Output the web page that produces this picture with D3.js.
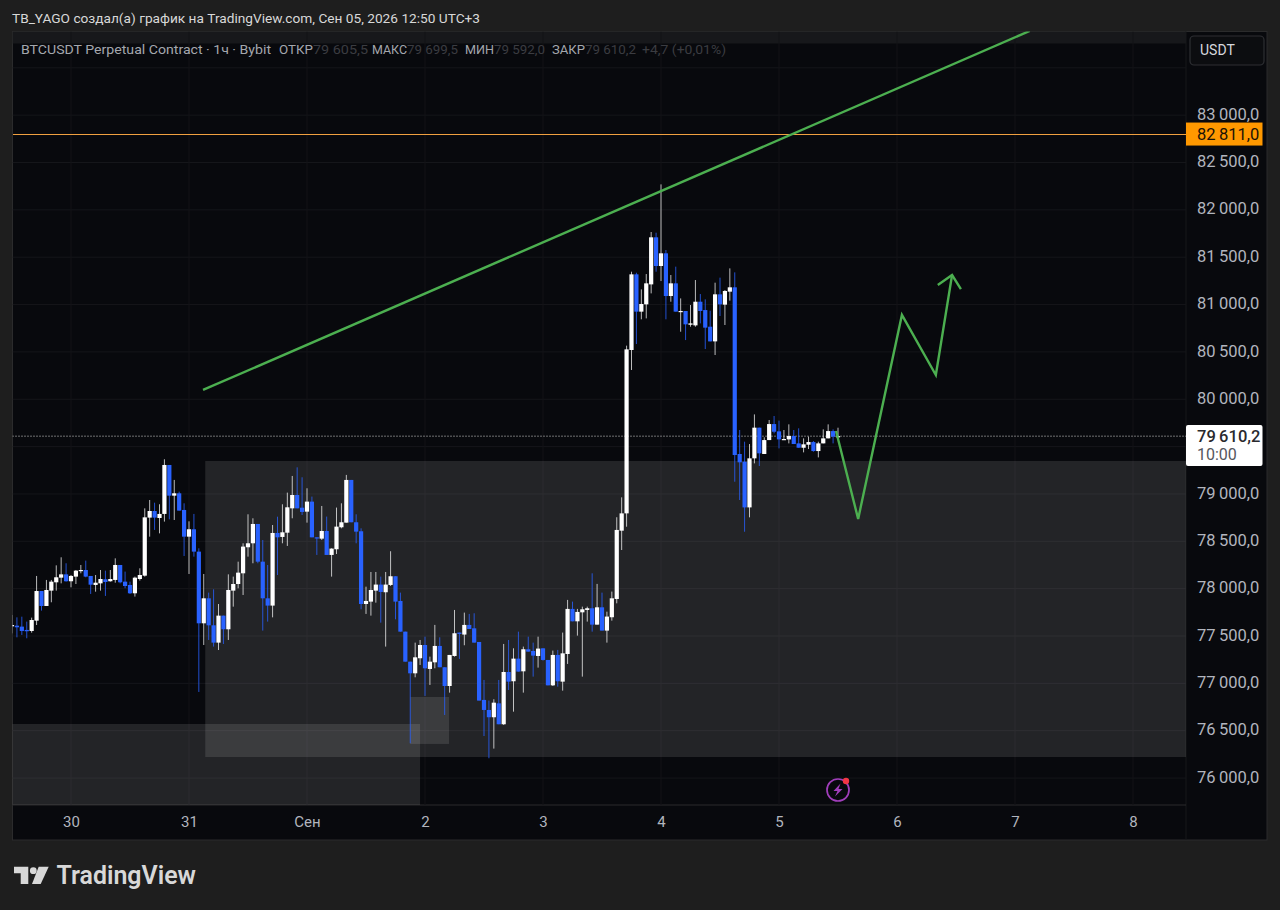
<!DOCTYPE html>
<html><head><meta charset="utf-8">
<script src="https://cdn.jsdelivr.net/npm/d3@7/dist/d3.min.js"></script>
<style>
html,body{margin:0;padding:0;background:#1e1e1e;overflow:hidden}
svg{display:block}
text{font-family:Roboto,"Noto Sans",sans-serif}
</style></head><body><div id="chart"></div>
<script>
// ---------- data ----------
const firstCandleHour = -12; // hours after 30 Aug 00:00
const open = [77602,77609,77599,77564,77553,77662,77975,77817,77979,78067,
78116,78151,78078,78127,78187,78197,78134,78039,78056,78099,
78078,78092,78250,78074,78039,77951,78102,78137,78750,78820,
78746,78789,79306,78982,79007,78831,78549,78627,78391,77634,
77898,77613,77430,77715,77571,77979,78049,78162,78437,78479,
78683,78285,77898,77821,78588,78546,78591,78848,78989,78855,
78813,78919,78542,78528,78609,78356,78416,78648,78697,79148,
78701,78606,77838,77863,77979,78043,77962,78039,78131,77870,
77546,77229,77106,77265,77405,77152,77222,77395,77170,76972,
77289,77536,77515,77617,77581,77437,76825,76719,76642,76789,
76568,77120,77022,77261,77127,77360,77342,77289,77370,77247,
76979,77300,77018,77310,77786,77655,77750,77775,77793,77620,
77803,77557,77698,77891,78612,78795,80520,81319,80925,81002,
81213,81710,81407,81541,81090,81224,80921,80932,80787,80780,
81030,80942,80766,80611,81108,80999,81136,81182,79422,79341,
78858,79376,79700,79422,79569,79738,79661,79573,79576,79612,
79534,79488,79520,79548,79453,79534,79587,79664,79605.5];
const high = [77722,77697,77704,77652,77694,78134,77975,78092,78092,78246,
78331,78268,78144,78197,78250,78296,78134,78144,78197,78190,
78197,78320,78250,78180,78074,78127,78215,78848,78936,78908,
78891,79366,79306,79148,79024,78901,78711,78789,78426,78155,
77958,77993,77838,77715,78151,78127,78285,78479,78785,78743,
78683,78514,78250,78672,78760,78891,79014,79190,79281,79176,
79060,78972,78542,78873,78761,78426,78856,78901,79201,79148,
78785,78637,78021,78176,78176,78127,78176,78395,78131,77958,
77546,77229,77430,77458,77493,77282,77617,77486,77170,77300,
77775,77536,77747,77733,77740,77437,77036,76818,76832,77036,
77416,77458,77370,77546,77388,77493,77430,77493,77370,77247,
77346,77353,77536,77881,77863,77786,77810,77810,78162,78050,
77958,77757,77969,78754,78964,80566,81347,81336,81160,81322,
81766,81759,82269,81576,81312,81400,81065,80932,80995,81259,
81111,81055,80935,81231,81284,81153,81382,81340,79675,79552,
79527,79840,79700,79598,79781,79823,79774,79675,79735,79675,
79693,79587,79605,79559,79552,79682,79735,79682,79699.5];
const low = [77528,77486,77511,77476,77535,77616,77768,77817,77856,77979,
78056,78074,78014,78049,78162,78120,77944,77968,77979,77923,
78074,78063,78056,78004,77944,77916,78085,78127,78549,78620,
78584,78708,78732,78725,78824,78345,78155,78338,76909,77405,
77458,77388,77352,77416,77458,77810,78004,77933,78338,78268,
78268,77557,77652,77697,78144,78479,78451,78743,78848,78778,
78697,78542,78356,78514,78356,78127,78366,78637,78697,78701,
78479,77782,77733,77715,77852,77641,77388,78028,77676,77546,
77229,76367,77064,77194,76867,76983,77159,77170,76666,76902,
77282,77258,77402,77574,77430,76818,76444,76209,76311,76568,
76561,76930,76701,77124,76902,77335,77071,77166,77240,76979,
76972,76965,76923,77205,77655,77504,77071,77652,77546,77620,
77557,77430,77662,77845,78408,78654,80309,80583,80844,80854,
81118,81347,81248,80844,81030,80925,80713,80625,80766,80766,
80801,80530,80611,80467,80879,80784,81041,79129,78936,78601,
78753,79323,79295,79422,79569,79640,79481,79569,79534,79527,
79488,79439,79474,79446,79386,79534,79587,79534,79592];
const close = [77616,77592,77553,77550,77669,77975,77817,77986,78074,78120,
78151,78078,78134,78190,78197,78127,78042,78063,78102,78070,
78102,78250,78067,78028,77951,78116,78144,78753,78820,78750,
78789,79306,78982,79007,78824,78549,78627,78391,77634,77898,
77613,77430,77715,77571,77986,78049,78169,78444,78479,78683,
78285,77898,77821,78588,78542,78595,78859,78989,78848,78810,
78919,78542,78532,78609,78356,78423,78655,78701,79148,78701,
78602,77838,77870,77986,78043,77965,78043,78131,77863,77546,
77229,77106,77275,77405,77159,77229,77395,77170,76972,77300,
77529,77522,77617,77574,77430,76818,76719,76642,76796,76568,
77120,77018,77261,77124,77360,77335,77293,77367,77247,76979,
77300,77022,77317,77786,77655,77754,77782,77793,77620,77803,
77557,77705,77898,78620,78795,80527,81319,80925,81006,81224,
81710,81407,81541,81090,81224,80925,80932,80791,80801,81030,
80932,80756,80611,81108,81002,81143,81182,79411,79334,78858,
79376,79700,79429,79569,79738,79657,79576,79580,79612,79527,
79488,79524,79548,79453,79534,79587,79664,79605,79610.2];

const dayTickHours = [0,24,48,72,96,120,144,168,192,216];
const dayTickLabels = ["30","31","Сен","2","3","4","5","6","7","8"];
const priceGrid = [76000,76500,77000,77500,78000,78500,79000,79500,80000,80500,81000,81500,82000,82500,83000,83500];
const priceTicks = [76000,76500,77000,77500,78000,78500,79000,80000,80500,81000,81500,82000,82500,83000];

const zoneFromHour = [27.3,-30,69];
const zoneToHour   = [260,71,76.9];
const zoneTopPrice = [79348,76571,76856];
const zoneBotPrice = [76222,75700,76360];

const trendHours = [26.85,195];
const trendPrices = [80098,83889];
const pathHours = [155.6,160.1,169,175.9,179.2];
const pathPrices = [79665,78736,80890,80256,81312];
const arrowHours = [176.3,179.2,181];
const arrowPrices = [81207,81312,81164];

const levelPrice = 82811;
const lastPrice = 79610.2;

// ---------- layout ----------
const W=1280,H=910;
const base=Date.UTC(2026,7,30);
const toDate=h=>new Date(base+h*3600e3);
const x=d3.scaleUtc().domain([toDate(0),toDate(216)]).range([71,1133]);
const y=d3.scaleLinear().domain([77500,83000]).range([636,115.15]);
const L=12.5,R=1186,T=31.5,B=805,AR=1267,AB=840;

const svg=d3.select("#chart").append("svg").attr("width",W).attr("height",H);
svg.append("rect").attr("width",W).attr("height",H).attr("fill","#1e1e1e");
svg.append("rect").attr("x",L).attr("y",T).attr("width",AR-L).attr("height",AB-T).attr("fill","#08090d").attr("stroke","#2b2b2c");
svg.append("line").attr("x1",R).attr("x2",R).attr("y1",T).attr("y2",AB).attr("stroke","#17181b");
svg.append("line").attr("x1",L).attr("x2",R).attr("y1",B).attr("y2",B).attr("stroke","#2a2a2d");

svg.append("defs").append("clipPath").attr("id","plot").append("rect").attr("x",L).attr("y",T).attr("width",R-L).attr("height",B-T);
const plot=svg.append("g").attr("clip-path","url(#plot)");

// legend strip
plot.append("rect").attr("x",L).attr("y",T).attr("width",R-L).attr("height",12).attr("fill","#17181b");

// grid
plot.append("g").selectAll("line").data(priceGrid).join("line")
 .attr("x1",L).attr("x2",R).attr("y1",d=>y(d)).attr("y2",d=>y(d)).attr("stroke","#15161a");
plot.append("g").selectAll("line").data(dayTickHours).join("line")
 .attr("x1",d=>x(toDate(d))).attr("x2",d=>x(toDate(d))).attr("y1",T).attr("y2",B).attr("stroke","#121317");

// zones
plot.append("g").selectAll("rect").data(zoneFromHour).join("rect")
 .attr("x",(d,i)=>x(toDate(d))).attr("width",(d,i)=>x(toDate(zoneToHour[i]))-x(toDate(d)))
 .attr("y",(d,i)=>y(zoneTopPrice[i])).attr("height",(d,i)=>y(zoneBotPrice[i])-y(zoneTopPrice[i]))
 .attr("fill","#fff").attr("fill-opacity",.11);

// level & last price lines
plot.append("line").attr("x1",L).attr("x2",R).attr("y1",y(levelPrice)+1).attr("y2",y(levelPrice)+1).attr("stroke","#f0a040").attr("stroke-width",1).attr("shape-rendering","crispEdges");
plot.append("line").attr("x1",L).attr("x2",R).attr("y1",y(lastPrice)).attr("y2",y(lastPrice)).attr("stroke","#d8d8d8").attr("stroke-dasharray","1 2");

// candles
const idx=d3.range(open.length);
const cx=i=>x(toDate(firstCandleHour+i));
const up=i=>close[i]>=open[i];
const WHITE="#ffffff",BLUE="#2962ff";
const c=plot.append("g");
c.selectAll("line").data(idx).join("line")
 .attr("x1",cx).attr("x2",cx).attr("y1",i=>y(high[i])).attr("y2",i=>y(low[i]))
 .attr("stroke",i=>up(i)?WHITE:BLUE).attr("stroke-opacity",i=>up(i)?.72:.8).attr("stroke-width",1);
c.selectAll("rect").data(idx).join("rect")
 .attr("x",i=>cx(i)-2.1).attr("width",4.2)
 .attr("y",i=>y(Math.max(open[i],close[i])))
 .attr("height",i=>Math.max(1.2,Math.abs(y(open[i])-y(close[i]))))
 .attr("fill",i=>up(i)?WHITE:BLUE);

// drawings
const ln=d3.line().x(d=>x(toDate(d[0]))).y(d=>y(d[1]));
const green="#4caf50";
[[trendHours,trendPrices],[pathHours,pathPrices],[arrowHours,arrowPrices]].forEach(([h,p])=>{
 plot.append("path").attr("d",ln(h.map((v,i)=>[v,p[i]]))).attr("fill","none").attr("stroke",green).attr("stroke-width",2.4);
});

// purple icon
const ic=plot.append("g").attr("transform","translate(838,790)");
ic.append("circle").attr("r",11).attr("fill","none").attr("stroke","#a13ebb").attr("stroke-width",1.7);
ic.append("path").attr("d","M2.5,-6.5 L-4.5,1 L-0.5,1 L-3,6.5 L4.5,-1 L0.5,-1 Z").attr("fill","#a13ebb");
ic.append("circle").attr("cx",8).attr("cy",-9).attr("r",3.2).attr("fill","#f23645");

// axes
const xAxis=d3.axisBottom(x).tickValues(dayTickHours.map(toDate)).tickFormat((d,i)=>dayTickLabels[i]).tickSize(0).tickPadding(11);
const gx=svg.append("g").attr("transform",`translate(0,${B})`).call(xAxis);
gx.select(".domain").remove();
gx.selectAll("text").attr("fill","#b2b5be").attr("font-size",15).attr("font-family","Roboto,sans-serif");

const fmtPrice=v=>{const s=v.toFixed(1).replace(".",",");const a=s.length-5;return s.slice(0,a)+"\u2009"+s.slice(a);};
const yAxis=d3.axisRight(y).tickValues(priceTicks).tickFormat(fmtPrice).tickSize(0).tickPadding(11);
const gy=svg.append("g").attr("transform",`translate(${R},0)`).call(yAxis);
gy.select(".domain").remove();
gy.selectAll("text").attr("fill","#b2b5be").attr("font-size",16.5).attr("dy","0.25em").attr("font-family","Roboto,sans-serif");

// price labels
svg.append("rect").attr("x",R).attr("y",y(levelPrice)-10.5).attr("width",76.5).attr("height",23).attr("fill","#ff9800");
svg.append("text").attr("x",1197).attr("y",y(levelPrice)+7).attr("font-size",16.5).attr("fill","#1a1206").text(fmtPrice(levelPrice));
svg.append("rect").attr("x",R).attr("y",425).attr("width",76.5).attr("height",41).attr("rx",2).attr("fill","#fff");
svg.append("text").attr("x",1197).attr("y",442).attr("font-size",16.5).attr("font-weight",500).attr("fill","#2a2a2e").text(fmtPrice(lastPrice));
svg.append("text").attr("x",1197).attr("y",460).attr("font-size",16).attr("fill","#55565c").text("10:00");

// USDT button
svg.append("rect").attr("x",1190).attr("y",36).attr("width",74).attr("height",29).attr("rx",4).attr("fill","#0c0d10").attr("stroke","#2e2f33").attr("stroke-width",1.2);
svg.append("text").attr("x",1200).attr("y",55).attr("font-size",14).attr("fill","#d6d8de").text("USDT");

// header & legend
svg.append("text").attr("x",12).attr("y",23).attr("font-size",13).attr("fill","#d8d8d8").attr("textLength",468).attr("lengthAdjust","spacingAndGlyphs")
 .text("TB_YAGO создал(а) график на TradingView.com, Сен 05, 2026 12:50 UTC+3");
const legendTexts=["BTCUSDT Perpetual Contract · 1ч · Bybit","ОТКР","79 605,5","МАКС","79 699,5","МИН","79 592,0","ЗАКР","79 610,2","+4,7 (+0,01%)"];
const legendX=[21,279,313,372,407,465,494,552,585,642];
const legendLen=[250,34,55,35,51,29,51,33,51,84];
svg.append("g").selectAll("text").data(legendTexts).join("text")
 .attr("x",(d,i)=>legendX[i]).attr("y",54).attr("font-size",13)
 .attr("textLength",(d,i)=>legendLen[i]).attr("lengthAdjust","spacingAndGlyphs")
 .attr("fill",(d,i)=>(i===0||(i%2===1&&i<9))?"#a4a7ad":"#3b3c41")
 .text(d=>d);

// logo
const lg=svg.append("g").attr("fill","#d8d8d8");
lg.append("path").attr("d","M14,866.7H28.3V884H20.7V873.3H14Z");
lg.append("circle").attr("cx",33.3).attr("cy",870.7).attr("r",3.4);
lg.append("path").attr("d","M38.7,866.7H48.7L40.7,884H32Z");
svg.append("text").attr("x",56.5).attr("y",884).attr("font-family","Inter,Lato,sans-serif").attr("font-size",25).attr("font-weight",600).attr("fill","#d8d8d8").attr("textLength",139.5).attr("lengthAdjust","spacingAndGlyphs").text("TradingView");
</script></body></html>
